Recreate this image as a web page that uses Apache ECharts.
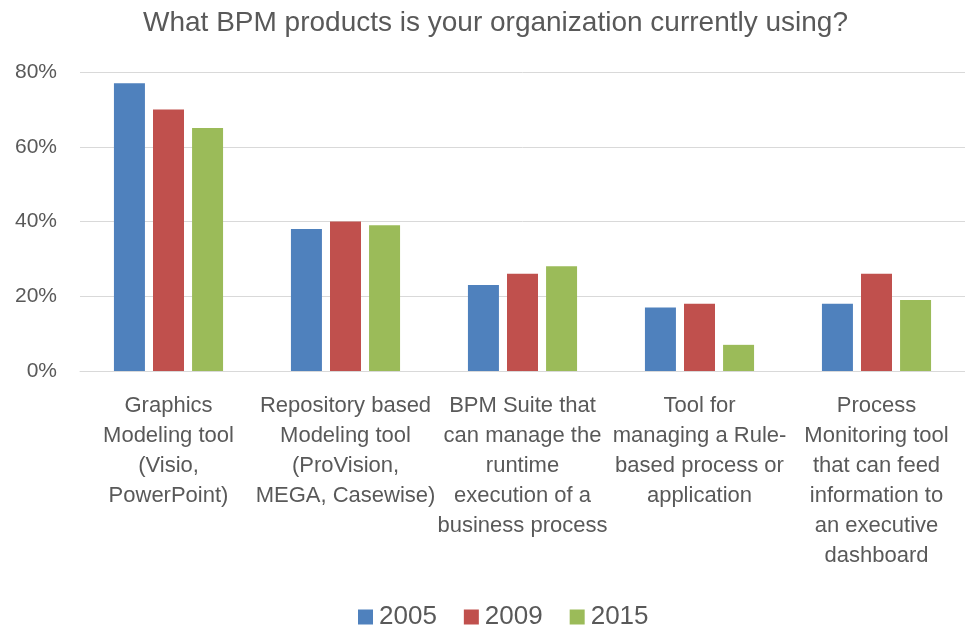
<!DOCTYPE html>
<html><head><meta charset="utf-8">
<script src="https://cdn.jsdelivr.net/npm/echarts@6/dist/echarts.min.js"></script>
<style>html,body{margin:0;padding:0;background:#fff}#c{width:965px;height:628px}</style>
</head><body><div id="c"></div>
<script>
const categories = [
  "Graphics\nModeling tool\n(Visio,\nPowerPoint)",
  "Repository based\nModeling tool\n(ProVision,\nMEGA, Casewise)",
  "BPM Suite that\ncan manage the\nruntime\nexecution of a\nbusiness process",
  "Tool for\nmanaging a Rule-\nbased process or\napplication",
  "Process\nMonitoring tool\nthat can feed\ninformation to\nan executive\ndashboard"
];
const seriesNames = ["2005", "2009", "2015"];
const values2005 = [77, 38, 23, 17, 18];
const values2009 = [70, 40, 26, 18, 26];
const values2015 = [65, 39, 28, 7, 19];
const yTicks = [0, 20, 40, 60, 80];
const colors = ["#4F81BD", "#C0504D", "#9BBB59"];
const font = "Liberation Sans, Arial, sans-serif";
const txt = "#595959";

const chart = echarts.init(document.getElementById('c'));
const allValues = [values2005, values2009, values2015];
chart.setOption({
  animation: false,
  color: colors,
  title: {
    text: "What BPM products is your organization currently using?",
    left: 138, top: 4,
    textStyle: { fontFamily: font, fontSize: 28, fontWeight: 'normal', color: txt }
  },
  legend: {
    top: 599, left: 353,
    itemWidth: 15, itemHeight: 15, itemGap: 27,
    icon: 'rect',
    textStyle: { fontFamily: font, fontSize: 26, color: txt, padding: [0,0,0,1] },
    data: seriesNames
  },
  grid: { left: 80, right: -5, top: 72, bottom: 257, containLabel: false },
  xAxis: {
    type: 'category', data: categories,
    axisLine: { lineStyle: { color: '#D9D9D9', width: 1 } },
    axisTick: { show: false },
    axisLabel: { interval: 0, fontFamily: font, fontSize: 22, color: txt, lineHeight: 30, margin: 20 }
  },
  yAxis: {
    type: 'value', min: yTicks[0], max: yTicks[yTicks.length-1], interval: 20,
    axisLine: { show: false }, axisTick: { show: false },
    splitLine: { lineStyle: { color: '#D9D9D9', width: 1 } },
    axisLabel: { formatter: '{value}%', fontFamily: font, fontSize: 21, color: txt, margin: 23 }
  },
  series: seriesNames.map((n, i) => ({
    name: n, type: 'bar', data: allValues[i],
    barWidth: 31, barGap: '26%',
    itemStyle: { color: colors[i] }
  }))
});
</script></body></html>
